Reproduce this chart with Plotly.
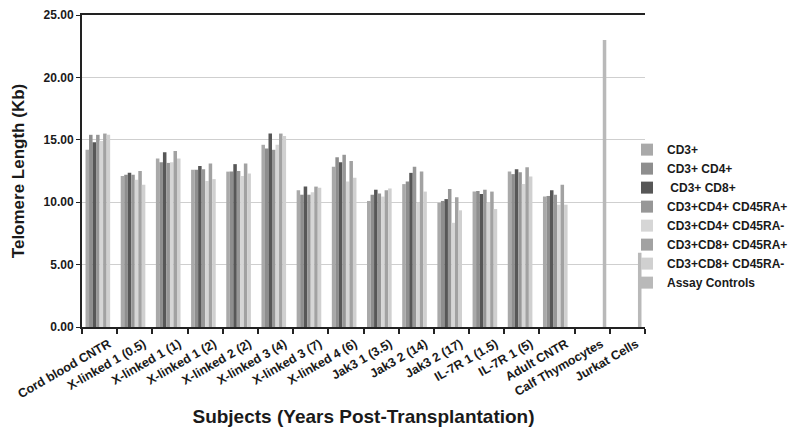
import plotly.graph_objects as go

categories = ["Cord blood CNTR", "X-linked 1 (0.5)", "X-linked 1 (1)", "X-linked 1 (2)",
              "X-linked 2 (2)", "X-linked 3 (4)", "X-linked 3 (7)", "X-linked 4 (6)",
              "Jak3 1 (3.5)", "Jak3 2 (14)", "Jak3 2 (17)", "IL-7R 1 (1.5)",
              "IL-7R 1 (5)", "Adult CNTR", "Calf Thymocytes", "Jurkat Cells"]

cd3 = [14.2, 12.1, 13.5, 12.6, 12.45, 14.6, 10.95, 12.85, 10.1, 11.45, 9.95, 10.85, 12.45, 10.45, None, None]
cd3_cd4 = [15.4, 12.2, 13.2, 12.6, 12.45, 14.3, 10.6, 13.6, 10.6, 11.65, 10.1, 10.9, 12.25, 10.5, None, None]
cd3_cd8 = [14.8, 12.35, 14.0, 12.9, 13.05, 15.5, 11.25, 13.2, 11.0, 12.35, 10.25, 10.65, 12.65, 10.95, None, None]
cd4_ra_pos = [15.4, 12.2, 13.15, 12.65, 12.5, 14.2, 10.6, 13.8, 10.7, 12.85, 11.05, 11.0, 12.4, 10.6, None, None]
cd4_ra_neg = [14.9, 11.8, 13.2, 11.7, 12.1, 14.6, 10.8, 11.65, 10.45, 9.95, 8.35, 9.95, 11.45, 9.8, None, None]
cd8_ra_pos = [15.5, 12.5, 14.1, 13.1, 13.1, 15.5, 11.25, 13.3, 10.95, 12.45, 10.4, 10.85, 12.8, 11.4, None, None]
cd8_ra_neg = [15.4, 11.4, 13.5, 11.85, 12.3, 15.3, 11.15, 11.95, 11.1, 10.85, 9.35, 9.45, 12.05, 9.8, None, None]
assay = [None] * 14 + [23.0, 5.95]

series_names = ["CD3+", "CD3+ CD4+", " CD3+ CD8+", "CD3+CD4+ CD45RA+", "CD3+CD4+ CD45RA-",
                "CD3+CD8+ CD45RA+", "CD3+CD8+ CD45RA-", "Assay Controls"]
series_values = [cd3, cd3_cd4, cd3_cd8, cd4_ra_pos, cd4_ra_neg, cd8_ra_pos, cd8_ra_neg, assay]
series_colors = ["#a9a9a9", "#8e8e8e", "#575757", "#979797", "#d6d6d6", "#a2a2a2", "#d0d0d0", "#b9b9b9"]

y_ticks = [0, 5, 10, 15, 20, 25]

font_family = "Arial, Liberation Sans, sans-serif"

fig = go.Figure()
for name, vals, col in zip(series_names, series_values, series_colors):
    fig.add_trace(go.Bar(x=categories, y=vals, name=name, marker=dict(color=col, line=dict(width=0))))

fig.update_layout(
    width=800, height=436,
    paper_bgcolor="white", plot_bgcolor="white",
    margin=dict(l=74, r=163, t=7, b=117),
    barmode="group", bargap=0.2, bargroupgap=0,
    font=dict(family=font_family, color="#1a1a1a", weight="bold"),
    legend=dict(x=0.968, xanchor="left", y=0.615, yanchor="top",
                font=dict(size=12, family=font_family, weight="bold", color="#1a1a1a"),
                itemwidth=30, tracegroupgap=0, bgcolor="rgba(0,0,0,0)"),
    xaxis=dict(
        type="category", tickangle=-30, tickson="boundaries", automargin=False,
        ticks="outside", ticklen=5, tickcolor="#222", tickwidth=1.5,
        showline=True, linecolor="#222", linewidth=2, mirror=True,
        ticklabelshift=9, ticklabelstandoff=3,
        tickfont=dict(size=12.5, family=font_family, weight="bold", color="#1a1a1a"),
        title=dict(text="Subjects (Years Post-Transplantation)",
                   font=dict(size=19, family=font_family, weight="bold", color="#1a1a1a"),
                   standoff=10),
        showgrid=False,
    ),
    yaxis=dict(
        range=[0, 25], tickvals=y_ticks, tickformat=".2f", automargin=False,
        ticks="outside", ticklen=4, tickcolor="#222",
        showline=True, linecolor="#222", linewidth=2,
        showgrid=True, gridcolor="#cfcfcf", gridwidth=1.2,
        zeroline=False,
        tickfont=dict(size=12, family=font_family, weight="bold", color="#1a1a1a"),
        title=dict(text="Telomere Length (Kb)",
                   font=dict(size=17, family=font_family, weight="bold", color="#1a1a1a"),
                   standoff=15),
    ),
)

fig.write_html("out.html")
